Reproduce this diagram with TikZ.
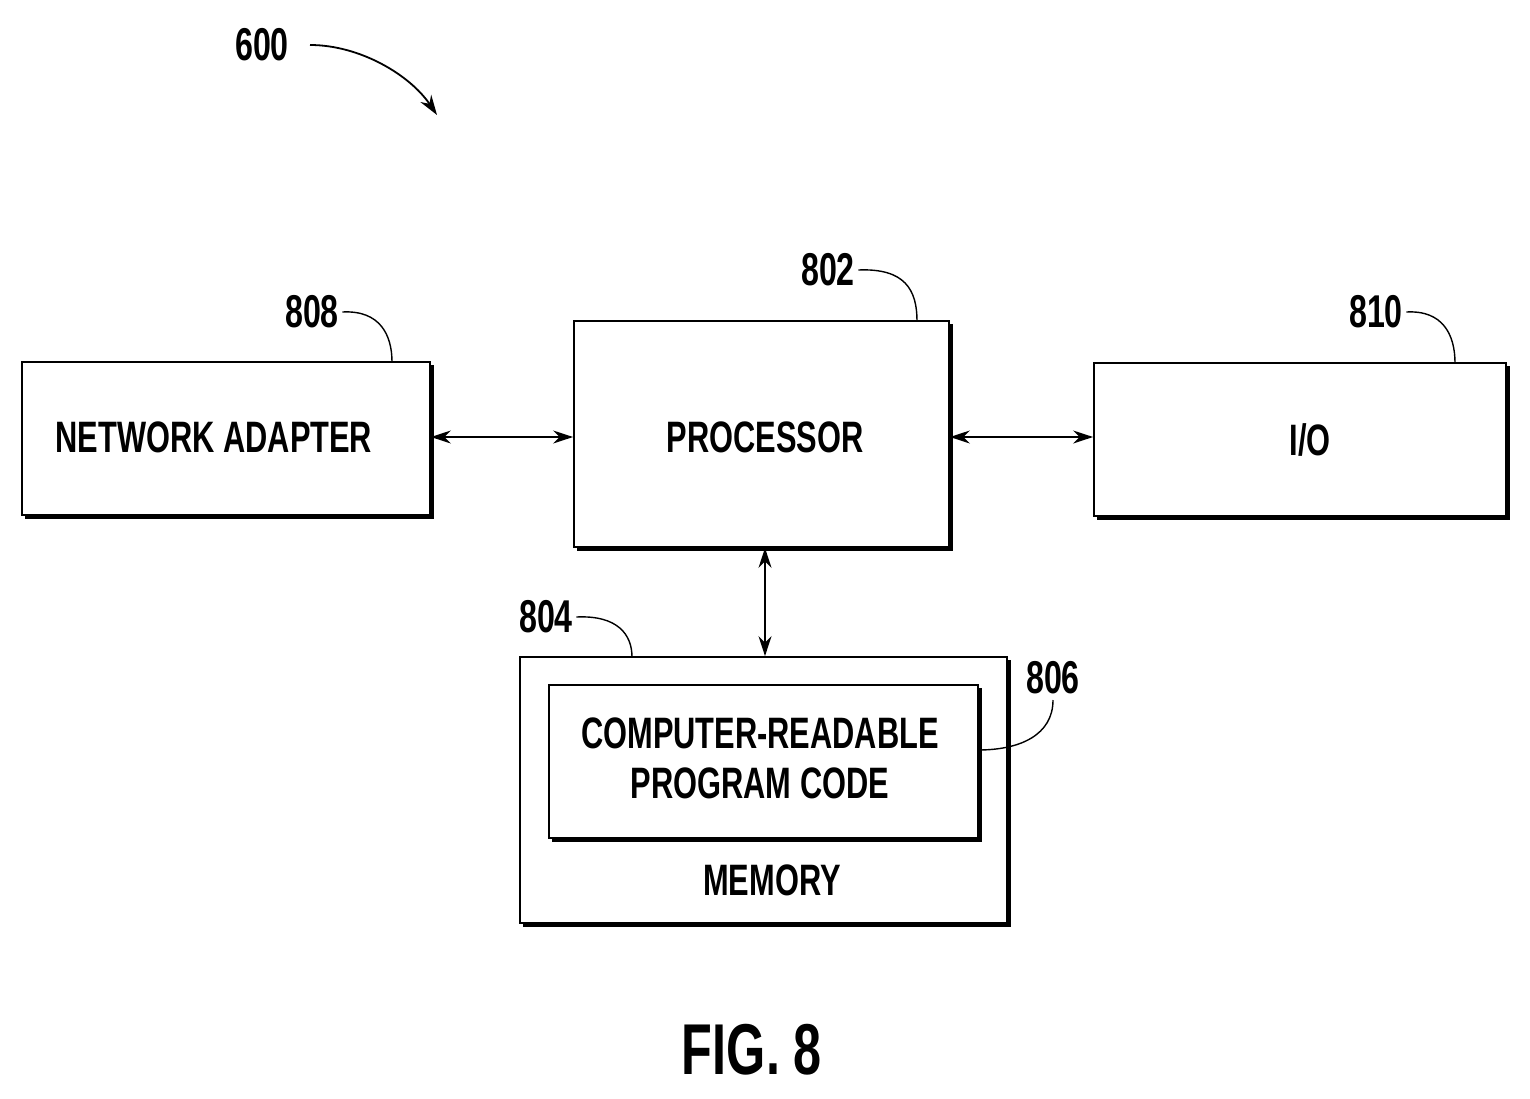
\documentclass[tikz,border=0pt]{standalone}
\usepackage{fontspec}
\setmainfont[FakeStretch=0.7]{Liberation Sans}
\usetikzlibrary{arrows.meta}
\begin{document}
\begin{tikzpicture}[x=1pt,y=-1pt,
  lab/.style={font=\fontsize{44}{50}\selectfont\bfseries},
  ref/.style={font=\fontsize{46}{48}\selectfont\bfseries},
  lead/.style={line width=1.4pt},
  biarrow/.style={line width=1.8pt,{Stealth[length=20pt,width=13pt]}-{Stealth[length=20pt,width=13pt]}}]
\useasboundingbox (0,0) rectangle (1530,1098);
\newcommand{\shbox}[5]{%
  \node[draw,line width=1.8pt,minimum width=#4-#2,minimum height=#5-#3,inner sep=0pt] (#1) at ({(#2+#4)/2},{(#3+#5)/2}) {};
  \draw[line width=2.4pt] (#2+3,#5+2.5) -- (#4+2.5,#5+2.5) -- (#4+2.5,#3+3);}
\shbox{na}{22}{362}{430}{515}
\shbox{proc}{574}{321}{949}{547}
\shbox{io}{1094}{363}{1506}{516}
\shbox{mem}{520}{657}{1007}{923}
\shbox{code}{549}{685}{978}{838}
\node[lab] at (214,437) {NETWORK ADAPTER};
\node[lab] at (765,437) {PROCESSOR};
\node[lab] at (1310,440) {I/O};
\node[lab,align=center] at (760,758) {COMPUTER-READABLE\\PROGRAM CODE};
\node[lab] at (772,880) {MEMORY};
\node[ref] (r600) at (262,45) {600};
\node[ref] (r802) at (828,270) {802};
\node[ref] (r808) at (312,312) {808};
\node[ref] (r810) at (1376,312) {810};
\node[ref] (r804) at (546,617) {804};
\node[ref] (r806) at (1053,678) {806};
\node[font=\fontsize{72}{74}\selectfont\bfseries] at (752,1050) {FIG. 8};
\coordinate (a600) at (437,115);
\draw[line width=1.8pt,-{Stealth[length=20pt,width=13pt]}] (310,45) .. controls (360,45) and (410,75) .. (a600);
\draw[lead] (r802.east) .. controls (905,268) and (917,290) .. (917,321);
\draw[lead] (r808.east) .. controls (380,310) and (392,335) .. (392,362);
\draw[lead] (r810.east) .. controls (1443,310) and (1455,335) .. (1455,363);
\draw[lead] (r804.east) .. controls (618,615) and (632,635) .. (632,657);
\draw[lead] (1053,700) .. controls (1053,735) and (1020,750) .. (978,750);
\draw[biarrow] (na.east |- 0,437) -- (proc.west |- 0,437);
\draw[biarrow] (proc.east |- 0,437) -- (io.west |- 0,437);
\draw[biarrow] (proc.south -| 765,0) -- (mem.north -| 765,0);
\end{tikzpicture}
\end{document}
